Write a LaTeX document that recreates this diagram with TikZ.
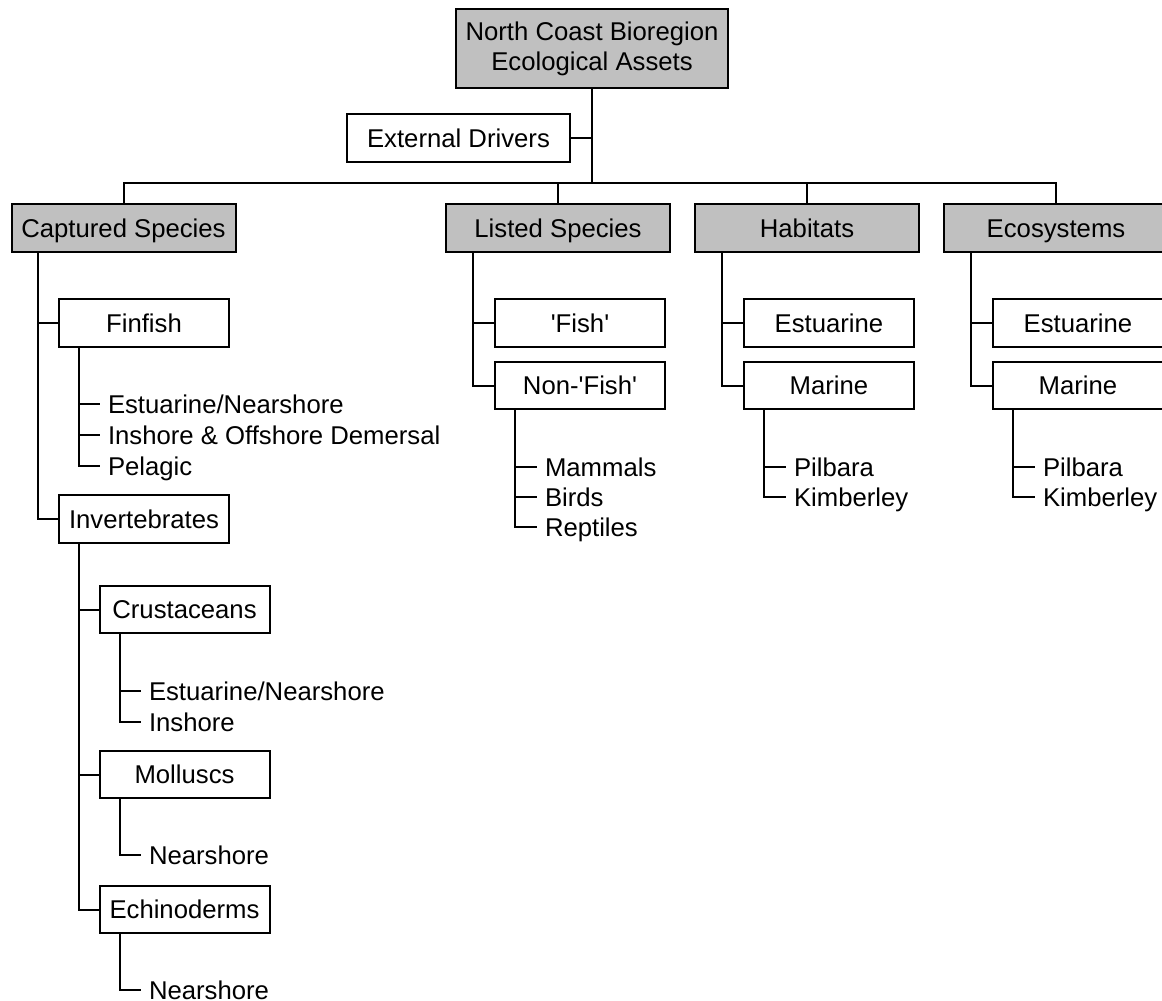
\documentclass[tikz,border=0pt]{standalone}
\usepackage{fontspec}
\setmainfont{Liberation Sans}
\usepackage{tikz}
\definecolor{boxgray}{HTML}{C0C0C0}

\begin{document}
\begin{tikzpicture}[x=0.5pt,y=-0.5pt,line width=1pt,
every node/.style={font=\fontsize{12.85}{15}\selectfont},
box/.style={draw,rectangle,minimum width=85pt,minimum height=23.75pt,inner sep=0pt,text height=11.5pt,text depth=2.3pt},
grp/.style={box,fill=boxgray,minimum width=112pt,minimum height=24pt},
leaf/.style={anchor=west,inner xsep=3.5pt,inner ysep=0pt,text height=9.2pt,text depth=0pt}]
\clip(0,0)rectangle(1162,1001);
\node[draw,fill=boxgray,minimum width=136pt,minimum height=39.5pt,align=center](root)at(592,48.5){North Coast Bioregion\\Ecological Assets};
\node[box,minimum width=111.5pt,minimum height=24pt](ext)at(458.5,138){External Drivers};
\coordinate(bus)at(592,183);
\node[grp](cap)at(123.5,228){Captured Species};
\node[grp](lst)at(558,228){Listed Species};
\node[grp](hab)at(807,228){Habitats};
\node[grp](eco)at(1056,228){Ecosystems};
\draw(root)--(bus);
\draw(ext)--(ext-|bus);
\draw(cap)|-(bus)-|(eco);
\draw(lst)--(lst|-bus)
(hab)--(hab|-bus);
\node[box](fin)at(144,323){Finfish};
\node[box](inv)at(144,519){Invertebrates};
\node[box](fsh)at(580,323){\textquotesingle Fish\textquotesingle};
\node[box](nfs)at(580,385.5){Non-\textquotesingle Fish\textquotesingle};
\node[box](hest)at(829,323){Estuarine};
\node[box](hmar)at(829,385.5){Marine};
\node[box](eest)at(1078,323){Estuarine};
\node[box](emar)at(1078,385.5){Marine};
\draw([xshift=13.75pt]cap.south west)|-(fin)
([xshift=13.75pt]cap.south west)|-(inv);
\draw([xshift=13.75pt]lst.south west)|-(fsh)
([xshift=13.75pt]lst.south west)|-(nfs);
\draw([xshift=13.75pt]hab.south west)|-(hest)
([xshift=13.75pt]hab.south west)|-(hmar);
\draw([xshift=13.75pt]eco.south west)|-(eest)
([xshift=13.75pt]eco.south west)|-(emar);
\node[box](cru)at(184.5,609.5){Crustaceans};
\node[box](mol)at(184.5,774.5){Molluscs};
\node[box](ech)at(184.5,909.5){Echinoderms};
\draw([xshift=10.5pt]inv.south west)|-(cru)
([xshift=10.5pt]inv.south west)|-(mol)
([xshift=10.5pt]inv.south west)|-(ech);
\node[leaf](fen)at(100,404){Estuarine/Nearshore};
\node[leaf](fio)at(100,435){Inshore \& Offshore Demersal};
\node[leaf](fpe)at(100,466){Pelagic};
\draw([xshift=10.5pt]fin.south west)|-(fen.west)
([xshift=10.5pt]fin.south west)|-(fio.west)
([xshift=10.5pt]fin.south west)|-(fpe.west);
\node[leaf](cen)at(141,691){Estuarine/Nearshore};
\node[leaf](cin)at(141,722){Inshore};
\draw([xshift=10.5pt]cru.south west)|-(cen.west)
([xshift=10.5pt]cru.south west)|-(cin.west);
\node[leaf](mne)at(141,855){Nearshore};
\draw([xshift=10.5pt]mol.south west)|-(mne.west);
\node[leaf](ene)at(141,990){Nearshore};
\draw([xshift=10.5pt]ech.south west)|-(ene.west);
\node[leaf](nma)at(537,467){Mammals};
\node[leaf](nbi)at(537,497){Birds};
\node[leaf](nre)at(537,527){Reptiles};
\draw([xshift=10.5pt]nfs.south west)|-(nma.west)
([xshift=10.5pt]nfs.south west)|-(nbi.west)
([xshift=10.5pt]nfs.south west)|-(nre.west);
\node[leaf](hpi)at(786,467){Pilbara};
\node[leaf](hki)at(786,497){Kimberley};
\draw([xshift=10.5pt]hmar.south west)|-(hpi.west)
([xshift=10.5pt]hmar.south west)|-(hki.west);
\node[leaf](epi)at(1035,467){Pilbara};
\node[leaf](eki)at(1035,497){Kimberley};
\draw([xshift=10.5pt]emar.south west)|-(epi.west)
([xshift=10.5pt]emar.south west)|-(eki.west);
\end{tikzpicture}
\end{document}
